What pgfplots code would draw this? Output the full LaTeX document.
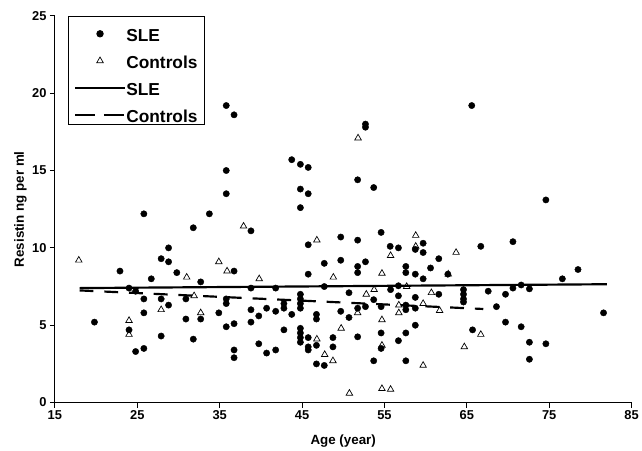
\documentclass[border=0pt]{standalone}
\usepackage{pgfplots}
\pgfplotsset{compat=1.18}
\usetikzlibrary{calc}
\usepackage{fontspec}
\setmainfont{Liberation Sans}
\begin{document}
\begin{tikzpicture}
\begin{axis}[
    scale only axis,
    width=583pt,
    height=391pt,
    xmin=15, xmax=85,
    ymin=0, ymax=25,
    xtick={15,25,...,85},
    ytick={0,5,...,25},
    axis x line=bottom,
    axis y line=left,
    axis line style={-, line width=1pt},
    tick align=outside,
    major tick length=5pt,
    tick style={black, line width=1pt},
    /pgf/number format/assume math mode=true,
    tick label style={font=\fontsize{13}{15}\selectfont\bfseries},
    xlabel={Age (year)},
    ylabel={Resistin ng per ml},
    every axis x label/.style={at={(axis description cs:0.5,-0.1074)}, anchor=base,
        font=\fontsize{13.5}{16}\selectfont\bfseries},
    every axis y label/.style={at={(axis description cs:-0.054,0.5)}, rotate=90, anchor=base,
        font=\fontsize{13.5}{16}\selectfont\bfseries},
    clip=false,
    legend cell align=left,
    legend image code/.code={%
        \draw[mark repeat=2, mark phase=2, #1] plot coordinates {(0pt,-4pt) (25pt,-4pt) (50pt,-4pt)};},
    legend style={
        at={(rel axis cs:0.022,1)}, anchor=north west,
        draw=black, line width=1pt,
        font=\fontsize{17.5}{20}\selectfont\bfseries,
        inner xsep=6.2pt,
        inner ysep=0pt,
        row sep=0pt,
        nodes={inner sep=0.5pt, text height=24.5pt, text depth=1.8pt},
    },
]
\path (rel axis cs:0,0) ++(-55.5pt,-46pt) rectangle ($(rel axis cs:1,1)+(4pt,16pt)$);

% SLE patients
\addplot[only marks, mark=*, mark size=3.2pt, mark options={draw=black, fill=black}] coordinates {
    (19.8,5.2) (22.9,8.5) (24.0,7.4) (24.0,4.7) (24.8,7.2) (24.8,3.3)
    (25.8,12.2) (25.8,6.7) (25.8,5.8) (25.8,3.5) (26.7,8.0) (27.9,9.3)
    (27.9,6.7) (27.9,4.3) (28.8,10.0) (28.8,9.1) (28.8,6.3) (29.8,8.4)
    (30.9,6.7) (30.9,5.4) (31.8,11.3) (31.8,4.1) (32.7,7.8) (32.7,5.4)
    (33.75,12.2) (34.9,5.8) (35.8,19.2) (35.8,15.0) (35.8,13.5) (35.8,6.7)
    (35.8,6.4) (35.8,4.9) (36.75,18.6) (36.75,8.5) (36.75,5.1) (36.75,3.4)
    (36.75,2.9) (38.8,11.1) (38.8,7.4) (38.8,6.0) (38.8,5.2) (39.75,5.6)
    (39.75,3.8) (40.7,6.1) (40.7,3.2) (41.8,7.4) (41.8,5.9) (41.8,3.4)
    (42.8,6.4) (42.8,6.1) (42.8,4.7) (43.75,15.7) (43.75,5.7) (44.8,15.4)
    (44.8,13.8) (44.8,12.6) (44.8,7.0) (44.8,6.7) (44.8,6.4) (44.8,6.1)
    (44.8,4.8) (44.8,4.5) (44.8,4.2) (44.8,3.9) (45.75,15.2) (45.75,13.5)
    (45.75,10.2) (45.75,8.3) (45.75,4.2) (45.75,3.6) (45.75,3.4) (46.75,5.7)
    (46.75,5.4) (46.75,3.7) (46.75,2.5) (47.7,9.0) (47.7,7.5) (47.7,2.4)
    (48.75,4.2) (48.75,3.6) (49.7,10.7) (49.7,9.2) (49.7,5.9)
    (50.7,7.1) (50.7,5.5) (51.75,14.4) (51.75,10.5) (51.75,8.8) (51.75,8.4)
    (51.75,6.1) (51.75,4.25) (52.7,18.0) (52.7,17.8) (52.7,9.1) (52.7,6.2)
    (53.7,13.9) (53.7,6.65) (53.7,2.7) (54.6,11.0) (54.6,6.2) (54.6,4.5)
    (54.6,3.5) (55.7,10.1) (55.75,7.3) (56.7,10.0) (56.7,7.55) (56.7,6.9)
    (56.7,4.0) (57.6,8.8) (57.6,8.4) (57.6,6.3) (57.6,6.0) (57.6,4.5)
    (57.6,2.7) (58.75,9.9) (58.75,8.3) (58.75,6.8) (58.75,6.1) (58.75,5.0)
    (59.7,10.3) (59.7,9.7) (59.7,8.0) (60.6,8.7) (61.6,9.3) (61.6,7.0)
    (62.7,8.3) (64.6,7.3) (64.6,7.0) (64.6,6.7) (64.6,6.5) (65.6,19.2)
    (65.7,4.7) (66.7,10.1) (67.6,7.2) (68.6,6.2) (69.7,7.0) (69.7,5.2)
    (70.6,10.4) (70.6,7.4) (71.6,7.6) (71.6,4.9) (72.6,7.35) (72.6,3.9)
    (72.6,2.8) (74.6,13.1) (74.6,3.8) (76.6,8.0) (78.5,8.6) (81.6,5.8)
};
% Controls
\addplot[only marks, mark=triangle, mark size=3.8pt, mark options={draw=black, fill=white, line width=0.7pt}] coordinates {
    (17.9,9.2) (24.0,5.3) (24.0,4.4) (27.9,6.0) (31.0,8.1) (31.9,6.9)
    (32.7,5.8) (34.9,9.1) (35.9,8.5) (37.9,11.4) (39.8,8.0) (46.8,10.5)
    (46.8,4.1) (47.75,3.1) (48.8,8.1) (48.75,2.7) (49.75,4.8) (50.75,0.6)
    (51.8,17.1) (51.75,5.8) (52.8,7.0) (53.75,7.3) (54.7,8.35) (54.7,5.35)
    (54.7,3.7) (54.7,0.9) (55.75,9.5) (55.75,0.85) (56.75,6.3) (56.75,5.8)
    (57.7,7.5) (58.8,10.8) (58.8,10.1) (59.7,6.4) (59.7,2.4) (60.7,7.1)
    (61.7,5.95) (62.75,8.3) (63.7,9.7) (64.7,3.6) (66.7,4.4)
};
% regression lines
\addplot[black, line width=2.2pt] coordinates {(18,7.4) (82,7.65)};
\addplot[black, line width=2.2pt, dash pattern=on 14pt off 11pt,
    legend image post style={dash pattern=on 20pt off 9pt}] coordinates {(18,7.25) (67,6.05)};
\legend{SLE, Controls, SLE, Controls}
\end{axis}
\end{tikzpicture}
\end{document}
